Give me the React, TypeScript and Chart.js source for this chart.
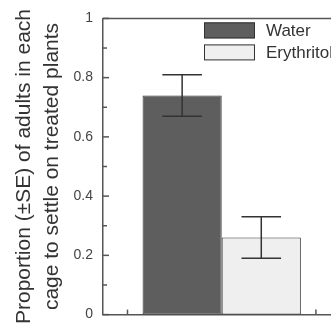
import React, { useEffect, useRef } from "react";
import { Chart, registerables } from "chart.js";

Chart.register(...registerables);

const categories = ["Water", "Erythritol"];
const means = [0.74, 0.26];
const seLow = [0.67, 0.19];
const seHigh = [0.81, 0.33];
const groupPosition = 0.5;
const majorTicks = [0, 0.2, 0.4, 0.6, 0.8, 1];
const fills = ["#5e5e5e", "#efefef"];
const yTitle = ["Proportion (\u00B1SE) of adults in each", "cage to settle on treated plants"];

const FONT = "'Liberation Sans', Arial, sans-serif";
const AXIS_COLOR = "#555555";

const isMajor = (v: number) => majorTicks.some((m) => Math.abs(m - v) < 1e-6);

const innerTicks = {
  id: "innerTicks",
  afterDraw(chart: any) {
    const { ctx, chartArea, scales } = chart;
    ctx.save();
    ctx.strokeStyle = AXIS_COLOR;
    ctx.lineWidth = 1.5;
    ctx.beginPath();
    ctx.moveTo(chartArea.left, chartArea.top);
    ctx.lineTo(chartArea.right, chartArea.top);
    ctx.stroke();
    const y = scales.y;
    y.ticks.forEach((t: any) => {
      const py = y.getPixelForValue(t.value);
      const len = isMajor(t.value) ? 6 : 4;
      ctx.beginPath();
      ctx.moveTo(chartArea.left, py);
      ctx.lineTo(chartArea.left + len, py);
      ctx.stroke();
    });
    const x = scales.x;
    x.ticks.forEach((t: any) => {
      const px = x.getPixelForValue(t.value);
      ctx.beginPath();
      ctx.moveTo(px, chartArea.bottom);
      ctx.lineTo(px, chartArea.bottom - 5);
      ctx.stroke();
    });
    ctx.restore();
  },
};

const errorBars = {
  id: "errorBars",
  afterDatasetsDraw(chart: any) {
    const { ctx, scales } = chart;
    ctx.save();
    ctx.strokeStyle = "#333333";
    ctx.lineWidth = 1.5;
    chart.data.datasets.forEach((_: any, i: number) => {
      const meta = chart.getDatasetMeta(i);
      const bar = meta.data[0];
      if (!bar) return;
      const cx = bar.x;
      const half = bar.width * 0.25;
      const yTop = scales.y.getPixelForValue(seHigh[i]);
      const yBot = scales.y.getPixelForValue(seLow[i]);
      ctx.beginPath();
      ctx.moveTo(cx, yTop);
      ctx.lineTo(cx, yBot);
      ctx.moveTo(cx - half, yTop);
      ctx.lineTo(cx + half, yTop);
      ctx.moveTo(cx - half, yBot);
      ctx.lineTo(cx + half, yBot);
      ctx.stroke();
    });
    ctx.restore();
  },
};

const insideLegend = {
  id: "insideLegend",
  afterDraw(chart: any) {
    const { ctx, chartArea } = chart;
    ctx.save();
    const boxW = 51;
    const boxH = 16;
    const left = chartArea.left + 101;
    let top = chartArea.top + 4;
    ctx.font = `17px ${FONT}`;
    ctx.textBaseline = "middle";
    ctx.textAlign = "left";
    chart.data.datasets.forEach((ds: any) => {
      ctx.fillStyle = ds.backgroundColor;
      ctx.fillRect(left, top, boxW, boxH);
      ctx.strokeStyle = "#333333";
      ctx.lineWidth = 1;
      ctx.strokeRect(left + 0.5, top + 0.5, boxW - 1, boxH - 1);
      ctx.fillStyle = "#333333";
      ctx.fillText(ds.label, left + boxW + 11, top + boxH / 2 + 1);
      top += 22;
    });
    ctx.restore();
  },
};

export default function App() {
  const ref = useRef<HTMLCanvasElement | null>(null);

  useEffect(() => {
    document.body.style.margin = "0";
    if (!ref.current) return;
    const chart = new Chart(ref.current, {
      type: "bar",
      data: {
        datasets: categories.map((c, i) => ({
          label: c,
          data: [{ x: groupPosition, y: means[i] }],
          backgroundColor: fills[i],
          borderColor: "#333333",
          borderWidth: 1,
          borderSkipped: false,
          categoryPercentage: 0.84,
          barPercentage: 1,
        })),
      },
      options: {
        responsive: false,
        animation: false,
        devicePixelRatio: 1,
        layout: { padding: { top: 15, right: 0, left: 0, bottom: 0 } },
        plugins: {
          legend: { display: false },
          tooltip: { enabled: false },
        },
        scales: {
          x: {
            type: "linear",
            offset: false,
            min: -0.13,
            max: 1.08,
            ticks: { display: false, stepSize: 1, includeBounds: false },
            grid: { display: false },
            border: { display: true, color: AXIS_COLOR, width: 1.5 },
            afterFit: (s: any) => {
              s.height = 9;
            },
          },
          y: {
            min: 0,
            max: 1,
            ticks: {
              stepSize: 0.1,
              padding: 10,
              color: "#444444",
              font: { family: FONT, size: 14 },
              callback: (v: any) => (isMajor(Number(v)) ? String(Number(Number(v).toFixed(1))) : ""),
            },
            grid: { display: false, drawTicks: false },
            border: { display: true, color: AXIS_COLOR, width: 1.5 },
            title: {
              display: true,
              text: yTitle,
              color: "#333333",
              font: { family: FONT, size: 21, lineHeight: 1.333 },
              padding: { top: 10, bottom: 0 },
            },
            afterFit: (s: any) => {
              s.width = 103;
            },
          },
        },
      },
      plugins: [innerTicks, errorBars, insideLegend],
    } as any);
    return () => chart.destroy();
  }, []);

  return (
    <div style={{ width: 331, height: 333 }}>
      <canvas ref={ref} width={331} height={333} style={{ display: "block" }} />
    </div>
  );
}
